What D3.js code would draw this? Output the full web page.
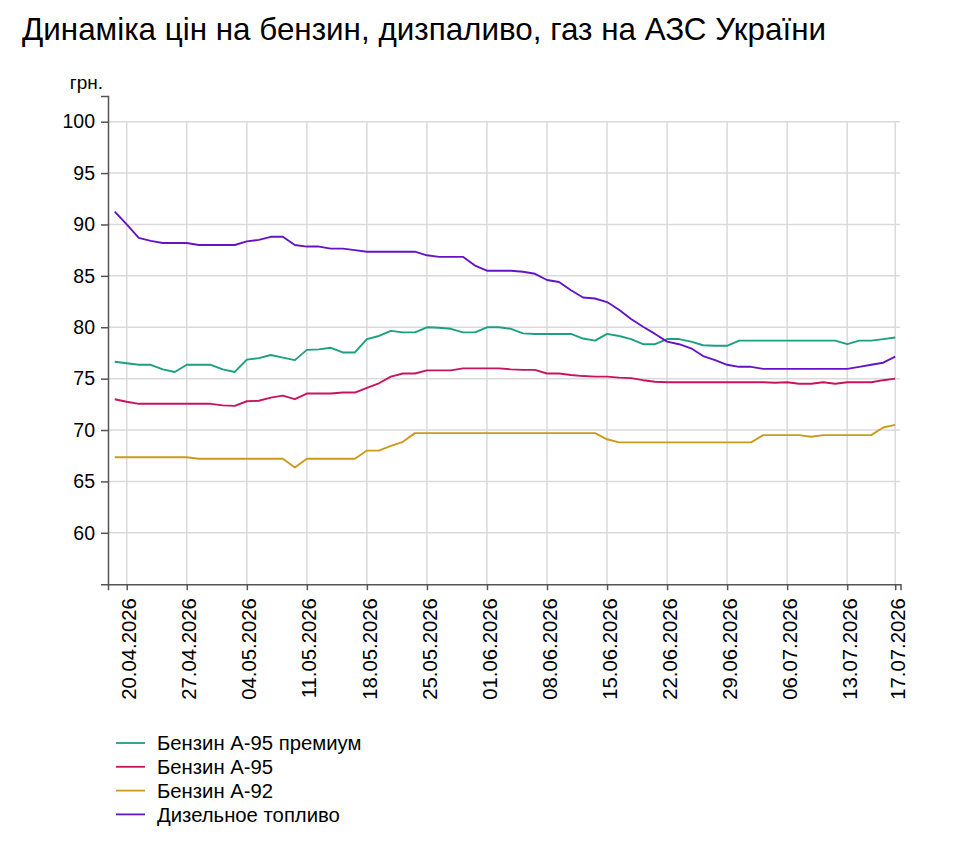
<!DOCTYPE html>
<html>
<head>
<meta charset="utf-8">
<script src="https://cdn.jsdelivr.net/npm/d3@7"></script>
<style>
  body { margin: 0; background: #fff; font-family: "Liberation Sans", Arial, sans-serif; }
  svg text { font-family: "Liberation Sans", Arial, sans-serif; }
</style>
</head>
<body>
<div id="main"></div>
<script>
// weekdays shown on the chart
const dates = [
  "17.04.2026",
  "20.04.2026","21.04.2026","22.04.2026","23.04.2026","24.04.2026",
  "27.04.2026","28.04.2026","29.04.2026","30.04.2026","01.05.2026",
  "04.05.2026","05.05.2026","06.05.2026","07.05.2026","08.05.2026",
  "11.05.2026","12.05.2026","13.05.2026","14.05.2026","15.05.2026",
  "18.05.2026","19.05.2026","20.05.2026","21.05.2026","22.05.2026",
  "25.05.2026","26.05.2026","27.05.2026","28.05.2026","29.05.2026",
  "01.06.2026","02.06.2026","03.06.2026","04.06.2026","05.06.2026",
  "08.06.2026","09.06.2026","10.06.2026","11.06.2026","12.06.2026",
  "15.06.2026","16.06.2026","17.06.2026","18.06.2026","19.06.2026",
  "22.06.2026","23.06.2026","24.06.2026","25.06.2026","26.06.2026",
  "29.06.2026","30.06.2026","01.07.2026","02.07.2026","03.07.2026",
  "06.07.2026","07.07.2026","08.07.2026","09.07.2026","10.07.2026",
  "13.07.2026","14.07.2026","15.07.2026","16.07.2026","17.07.2026"
];

const tickDates = ["20.04.2026","27.04.2026","04.05.2026","11.05.2026","18.05.2026","25.05.2026",
  "01.06.2026","08.06.2026","15.06.2026","22.06.2026","29.06.2026","06.07.2026","13.07.2026","17.07.2026"];
const yTicks = [60, 65, 70, 75, 80, 85, 90, 95, 100];

// prices, UAH
const a95premium = [
  76.65, 76.5, 76.35, 76.35, 75.9, 75.65, 76.35, 76.35, 76.35, 75.9, 75.65,
  76.85, 77.0, 77.3, 77.05, 76.8, 77.8, 77.85, 78.0, 77.55, 77.55,
  78.85, 79.15, 79.65, 79.5, 79.5, 80.0, 79.95, 79.85, 79.5, 79.5,
  80.0, 80.0, 79.85, 79.4, 79.35, 79.35, 79.35, 79.35, 78.9, 78.7,
  79.35, 79.15, 78.85, 78.35, 78.35, 78.85, 78.85, 78.6, 78.25, 78.2,
  78.2, 78.7, 78.7, 78.7, 78.7, 78.7, 78.7, 78.7, 78.7, 78.7,
  78.35, 78.7, 78.7, 78.85, 79.0
];
const a95 = [
  73.0, 72.75, 72.55, 72.55, 72.55, 72.55, 72.55, 72.55, 72.55, 72.4, 72.35,
  72.8, 72.85, 73.15, 73.35, 73.0, 73.55, 73.55, 73.55, 73.65, 73.65,
  74.1, 74.55, 75.2, 75.5, 75.5, 75.8, 75.8, 75.8, 76.0, 76.0,
  76.0, 76.0, 75.9, 75.85, 75.85, 75.5, 75.5, 75.35, 75.25, 75.2,
  75.2, 75.1, 75.05, 74.85, 74.7, 74.65, 74.65, 74.65, 74.65, 74.65,
  74.65, 74.65, 74.65, 74.65, 74.6, 74.65, 74.5, 74.5, 74.65, 74.5,
  74.65, 74.65, 74.65, 74.85, 75.0
];
const a92 = [
  67.35, 67.35, 67.35, 67.35, 67.35, 67.35, 67.35, 67.2, 67.2, 67.2, 67.2,
  67.2, 67.2, 67.2, 67.2, 66.35, 67.2, 67.2, 67.2, 67.2, 67.2,
  68.0, 68.0, 68.45, 68.85, 69.7, 69.7, 69.7, 69.7, 69.7, 69.7,
  69.7, 69.7, 69.7, 69.7, 69.7, 69.7, 69.7, 69.7, 69.7, 69.7,
  69.1, 68.8, 68.8, 68.8, 68.8, 68.8, 68.8, 68.8, 68.8, 68.8,
  68.8, 68.8, 68.8, 69.5, 69.5, 69.5, 69.5, 69.35, 69.5, 69.5,
  69.5, 69.5, 69.5, 70.25, 70.5
];
const diesel = [
  91.25, 90.0, 88.7, 88.4, 88.2, 88.2, 88.2, 88.0, 88.0, 88.0, 88.0,
  88.35, 88.5, 88.8, 88.8, 88.0, 87.85, 87.85, 87.65, 87.65, 87.5,
  87.35, 87.35, 87.35, 87.35, 87.35, 87.0, 86.85, 86.85, 86.85, 86.0,
  85.5, 85.5, 85.5, 85.4, 85.2, 84.6, 84.4, 83.6, 82.9, 82.8,
  82.45, 81.7, 80.8, 80.05, 79.35, 78.6, 78.35, 77.95, 77.2, 76.8,
  76.35, 76.15, 76.15, 75.95, 75.95, 75.95, 75.95, 75.95, 75.95, 75.95,
  75.95, 76.15, 76.35, 76.55, 77.15
];

const seriesNames = ["Бензин А-95 премиум", "Бензин А-95", "Бензин А-92", "Дизельное топливо"];
const seriesColors = ["#1d9f83", "#c8145f", "#cc9b1b", "#6414c6"];
const seriesValues = [a95premium, a95, a92, diesel];

const width = 961, height = 847;

const svg = d3.select("#main").append("svg")
  .attr("width", width)
  .attr("height", height);

// title
svg.append("text")
  .attr("x", 22).attr("y", 40)
  .style("font-size", "31.4px")
  .style("fill", "#000")
  .text("Динаміка цін на бензин, дизпаливо, газ на АЗС України");

// scales
const x = d3.scaleLinear().domain([-0.56, dates.length - 0.56]).range([108, 900.5]);
const y = d3.scaleLinear().domain([55, 102.5]).range([584.2, 96]);

// grid
const grid = svg.append("g").attr("class", "grid");
grid.selectAll(".hgrid").data(yTicks).enter().append("line")
  .attr("x1", 108).attr("x2", 900)
  .attr("y1", d => y(d)).attr("y2", d => y(d))
  .attr("stroke", "#dadada").attr("stroke-width", 1.5);
grid.selectAll(".vgrid").data(tickDates).enter().append("line")
  .attr("x1", d => x(dates.indexOf(d))).attr("x2", d => x(dates.indexOf(d)))
  .attr("y1", y(100)).attr("y2", y(55))
  .attr("stroke", "#dadada").attr("stroke-width", 1.5);

// axes
const yAxis = d3.axisLeft(y).tickValues(yTicks).tickSize(7).tickPadding(6);
const gy = svg.append("g").attr("transform", "translate(108,0)").call(yAxis);
gy.selectAll("text").style("font-size", "19.5px").style("fill", "#000");

const xAxis = d3.axisBottom(x)
  .tickValues(tickDates.map(d => dates.indexOf(d)))
  .tickFormat(i => dates[i])
  .tickSize(6);
const gx = svg.append("g").attr("transform", "translate(0,584.2)").call(xAxis);
gx.selectAll("text")
  .attr("transform", "rotate(-90)")
  .attr("x", -14).attr("y", 0).attr("dy", "0.45em")
  .style("text-anchor", "end")
  .style("font-size", "20.3px")
  .style("fill", "#000");

[gx, gy].forEach(g => {
  g.select(".domain").attr("stroke", "#555").attr("stroke-width", 1.5);
  g.selectAll(".tick line").attr("stroke", "#555").attr("stroke-width", 1.5);
});

// unit label
svg.append("text")
  .attr("x", 103).attr("y", 89)
  .style("text-anchor", "end")
  .style("font-size", "19px")
  .text("грн.");

// lines
const line = d3.line()
  .x((d, i) => x(i))
  .y(d => y(d));

seriesValues.forEach((vals, k) => {
  svg.append("path")
    .datum(vals)
    .attr("fill", "none")
    .attr("stroke", seriesColors[k])
    .attr("stroke-width", 1.9)
    .attr("stroke-linejoin", "round")
    .attr("d", line);
});

// legend
const legend = svg.append("g").attr("transform", "translate(116,743)");
seriesNames.forEach((name, k) => {
  const row = legend.append("g").attr("transform", "translate(0," + (k * 23.8) + ")");
  row.append("line")
    .attr("x1", 0).attr("x2", 29).attr("y1", 0).attr("y2", 0)
    .attr("stroke", seriesColors[k]).attr("stroke-width", 1.8);
  row.append("text")
    .attr("x", 41).attr("y", 0).attr("dy", "0.35em")
    .style("font-size", "20.3px")
    .text(name);
});
</script>
</body>
</html>
